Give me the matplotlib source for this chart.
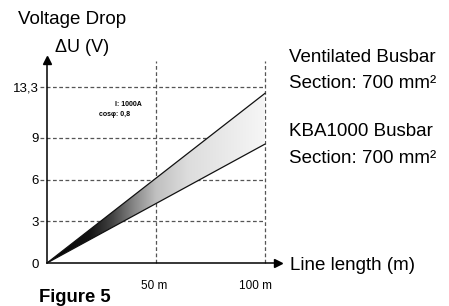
import numpy as np
import matplotlib
matplotlib.use("Agg")
import matplotlib.pyplot as plt
import matplotlib.transforms as mtransforms
from matplotlib.colors import LinearSegmentedColormap
from matplotlib.patches import Polygon

plt.rcParams['font.family'] = ['Liberation Sans', 'DejaVu Sans']

length_m = [0, 100]
ventilated_v = [0, 12.2]
kba1000_v = [0, 8.55]
y_ticks = [0, 3, 6, 9, 12.65]
y_tick_labels = ['0', '3', '6', '9', '13,3']
x_ticks = [50, 100]
x_tick_labels = ['50 m', '100 m']

fig = plt.figure(figsize=(4.49, 3.06), dpi=100)
ax = fig.add_axes([47/449, 43/306, 231/449, 203/306])
ax.set_xlim(0, 106)
ax.set_ylim(0, 14.6)

grid_kw = dict(color='#555555', lw=0.9, linestyles=(0, (3, 2)), clip_on=False, zorder=1)
for y in y_ticks[1:]:
    ax.hlines(y, -3.2, 100, **grid_kw)
ax.vlines(x_ticks, 0, 14.5, **grid_kw)

# gradient fill between the two lines
cmap = LinearSegmentedColormap.from_list('shade', [(0, 'black'), (0.2, '#151515'), (0.3, '#444444'),
                                                   (0.4, '#888888'), (0.5, '#c0c0c0'),
                                                   (0.65, '#dddddd'), (1, '#f6f6f6')])
grad = np.linspace(0, 1, 256).reshape(1, -1)
im = ax.imshow(grad, extent=[0, 100, 0, ventilated_v[1]], aspect='auto', cmap=cmap,
               origin='lower', zorder=2)
poly = Polygon([(length_m[0], ventilated_v[0]), (length_m[1], ventilated_v[1]),
                (length_m[1], kba1000_v[1])], closed=True, transform=ax.transData,
               facecolor='none', edgecolor='none')
ax.add_patch(poly)
im.set_clip_path(poly)

ax.plot(length_m, ventilated_v, color='#111111', lw=0.9, zorder=3)
ax.plot(length_m, kba1000_v, color='#111111', lw=0.9, zorder=3)

# axes with arrows
for s in ['top', 'right']:
    ax.spines[s].set_visible(False)
ax.spines['left'].set_linewidth(1.1)
ax.spines['bottom'].set_linewidth(1.1)
ax.plot(1, 0, '>k', ms=6, transform=ax.transAxes, clip_on=False)
ax.plot(0, 1, '^k', ms=6, transform=ax.transAxes, clip_on=False)

ax.set_yticks(y_ticks)
ax.set_yticklabels(y_tick_labels, fontsize=9.5)
ax.tick_params(axis='y', length=0, pad=6)
ax.set_xticks(x_ticks)
ax.set_xticklabels(x_tick_labels, fontsize=8.5)
ax.tick_params(axis='x', length=0, pad=12)
shift = mtransforms.ScaledTranslation(-9/100, 0, fig.dpi_scale_trans)
xl = ax.get_xticklabels()
xl[0].set_transform(xl[0].get_transform() + mtransforms.ScaledTranslation(-2/100, 0, fig.dpi_scale_trans))
xl[1].set_transform(xl[1].get_transform() + shift)

ax.text(31.2, 11.37, 'I: 1000A', fontsize=5, fontweight='bold', ha='left', va='center')
ax.text(23.9, 10.65, 'cosφ: 0,8', fontsize=5, fontweight='bold', ha='left', va='center')

fig.text(18/449, 1 - 20/306, 'Voltage Drop', fontsize=13.5, ha='left', va='center')
fig.text(55/449, 1 - 47/306, 'ΔU (V)', fontsize=13, ha='left', va='center')
fig.text(290/449, 1 - 266/306, 'Line length (m)', fontsize=13.5, ha='left', va='center')
fig.text(289/449, 1 - 57/306, 'Ventilated Busbar', fontsize=13.5, ha='left', va='center')
fig.text(289/449, 1 - 84/306, 'Section: 700 mm²', fontsize=13.5, ha='left', va='center')
fig.text(289/449, 1 - 132/306, 'KBA1000 Busbar', fontsize=13.5, ha='left', va='center')
fig.text(289/449, 1 - 158/306, 'Section: 700 mm²', fontsize=13.5, ha='left', va='center')
fig.text(39/449, 1 - 297/306, 'Figure 5', fontsize=13.3, fontweight='bold', ha='left', va='center')

fig.savefig('out.png', dpi=100)
